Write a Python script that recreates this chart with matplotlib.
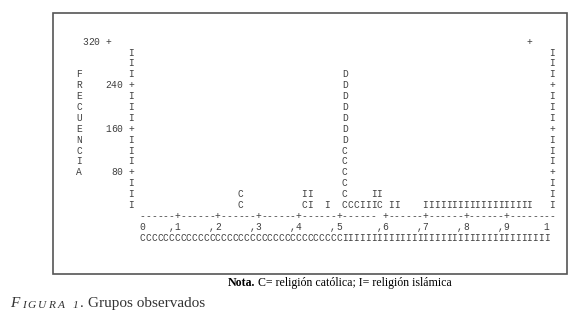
import matplotlib.pyplot as plt
from matplotlib.patches import Rectangle

# line-printer chart: x in print columns (col 0 -> 0, col 70 -> 1), y in frequency
step = 20                      # each printed letter stands for 20 cases
bar_cols = [17, 28, 29, 32, 35, 36, 37, 38, 39, 40, 41, 43, 44] + list(range(49, 68))
bar_stacks = ['CC', 'CI', 'II', 'I', 'CCCCCCDDDDDDD', 'C', 'C', 'I', 'I', 'II', 'CI',
              'I', 'I'] + ['I'] * 19

y_ticks = [80, 160, 240, 320]
x_tick_cols = [0, 6, 13, 20, 27, 34, 42, 49, 56, 63, 70]
x_tick_labels = ['0', ',1', ',2', ',3', ',4', ',5', ',6', ',7', ',8', ',9', '1']
axis_line = '------+------+------+------+------+------ +------+------+------+--------'
group_line = 'C' * 35 + 'I' * 36
ylabel = 'FRECUENCIA'

W, H = 580, 325
fig = plt.figure(figsize=(W / 100, H / 100), dpi=100)
ax = fig.add_axes([0, 0, 1, 1])
ax.axis('off')

# map printer grid onto the page
cw, rh = 5.771, 10.88          # px per column / per row
x0, y0 = 142.7, 41.7           # centre of col 0 / row of 320
ax.set_xlim(-x0 / cw, (W - x0) / cw)
ax.set_ylim(320 - step * (H - y0) / rh, 320 + step * y0 / rh)

mono = dict(family='Liberation Mono', size=6.95, color='#404040', ha='center', va='center')


def put(col, y, s):
    for i, ch in enumerate(s):
        if ch != ' ':
            ax.text(col + i, y, ch, **mono)


# vertical axes (left and right), top row printed 4 columns to the left
for v in range(step, 320, step):
    ch = '+' if v in y_ticks else 'I'
    put(-2, v, ch)
    put(71, v, ch)
put(-10, 320, '320 +')
put(67, 320, '+')
for v in y_ticks[:-1]:
    lab = str(v)
    put(-3 - len(lab), v, lab)

# vertical label
for i, ch in enumerate(ylabel):
    put(-11, 260 - i * step, ch)

# stacked letters
for c, s in zip(bar_cols, bar_stacks):
    for i, ch in enumerate(s):
        put(c, step * (i + 1), ch)

# horizontal axis, tick values and group line
put(0, 0, axis_line)
for c, lab in zip(x_tick_cols, x_tick_labels):
    put(c - len(lab) + 1, -step, lab)
put(0, -2 * step, group_line)

# frame
fig.patches.append(Rectangle((52.5 / W, 1 - 274 / H), (567 - 52.5) / W, (274 - 13) / H,
                             transform=fig.transFigure, fill=False, ec='#555555', lw=1.2))

# note under the frame
serif = ['Liberation Serif', 'DejaVu Serif']
t = fig.text(228 / W, 1 - 283 / H, 'Nota.', family=serif, weight='bold', size=8.6,
             va='center', ha='left')
ax.annotate('C= religión católica; I= religión islámica', xy=(1, 0), xycoords=t,
            xytext=(2.2, 0), textcoords='offset points',
            va='bottom', ha='left', family=serif, size=8.6)

# figure caption: "FIGURA 1." in italic small caps
cap = fig.text(10 / W, 1 - 307 / H, 'F', family=serif, style='italic', size=11,
               color='#333333', va='baseline', ha='left')
prev = cap
for ch in 'IGURA':
    prev = ax.annotate(ch, xy=(1, 0), xycoords=prev, xytext=(1.6, 0),
                       textcoords='offset points', va='bottom', ha='left',
                       family=serif, style='italic', size=8.2, color='#333333')
prev = ax.annotate('1', xy=(1, 0), xycoords=prev, xytext=(5.5, 0), textcoords='offset points',
                   va='bottom', ha='left', family=serif, style='italic', size=8.2, color='#333333')
prev = ax.annotate('.', xy=(1, 0), xycoords=prev, xytext=(1.2, 0), textcoords='offset points',
                   va='bottom', ha='left', family=serif, size=11, color='#333333')
ax.annotate('Grupos observados', xy=(1, 0), xycoords=prev, xytext=(3, 0),
            textcoords='offset points', va='bottom', ha='left', family=serif, size=11,
            color='#333333')

fig.savefig('out.png', dpi=100)
